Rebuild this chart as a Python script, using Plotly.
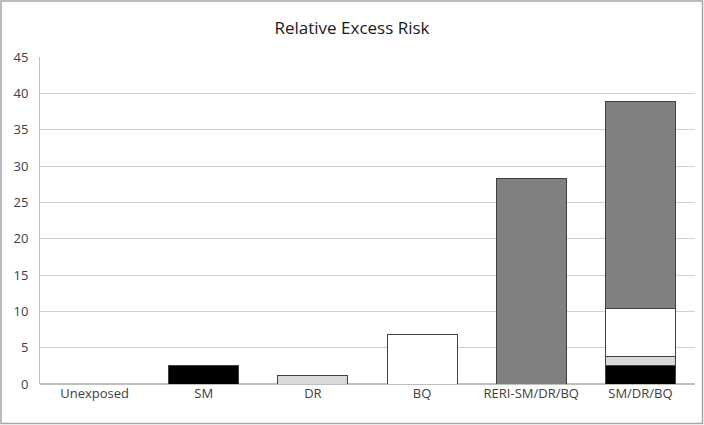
import plotly.graph_objects as go

categories = ["Unexposed", "SM", "DR", "BQ", "RERI-SM/DR/BQ", "SM/DR/BQ"]
sm_values = [0, 2.6, 0, 0, 0, 2.6]
dr_values = [0, 0, 1.2, 0, 0, 1.2]
bq_values = [0, 0, 0, 6.8, 0, 6.6]
reri_values = [0, 0, 0, 0, 28.3, 28.5]

series = [
    ("SM", sm_values, "#000000"),
    ("DR", dr_values, "#d9d9d9"),
    ("BQ", bq_values, "#ffffff"),
    ("RERI", reri_values, "#808080"),
]

FONT = "Open Sans, Liberation Sans, sans-serif"
W, H = 704, 425
L, R, T, B = 40, 9, 57, 41

fig = go.Figure()
for name, vals, color in series:
    fig.add_trace(go.Bar(
        x=categories, y=vals, name=name,
        marker=dict(color=color, line=dict(color="#404040", width=1)),
        width=0.64, hoverinfo="x+y",
    ))

pw, ph = W - L - R, H - T - B
fig.update_layout(
    barmode="stack",
    showlegend=False,
    width=W, height=H,
    margin=dict(l=L, r=R, t=T, b=B),
    paper_bgcolor="white", plot_bgcolor="white",
    font=dict(family=FONT, size=12, color="#404040"),
    title=dict(text="Relative Excess Risk", x=0.5, xanchor="center", y=0.935, yanchor="middle",
               font=dict(family=FONT, size=17, color="#1a1a1a")),
    xaxis=dict(showgrid=False, showline=False, ticks="", tickfont=dict(size=13, color="#404040")),
    yaxis=dict(range=[0, 45], dtick=5, showgrid=True, gridcolor="#d0d0d0", gridwidth=1,
               showline=True, linecolor="#bfbfbf", zeroline=True, zerolinecolor="#bfbfbf",
               ticks="", ticklabelstandoff=8, tickfont=dict(size=13, color="#404040")),
    shapes=[dict(type="rect", xref="paper", yref="paper",
                 x0=(-L + 1) / pw, x1=1 + (R - 1.5) / pw,
                 y0=-(B - 1.5) / ph, y1=1 + (T - 1) / ph,
                 line=dict(color="#a6a6a6", width=1.5))],
)

# drop the default 8px body margin so the chart fills the window
fig.write_html("out.html", config={"displayModeBar": False},
               post_script="document.body.style.margin='0';")
